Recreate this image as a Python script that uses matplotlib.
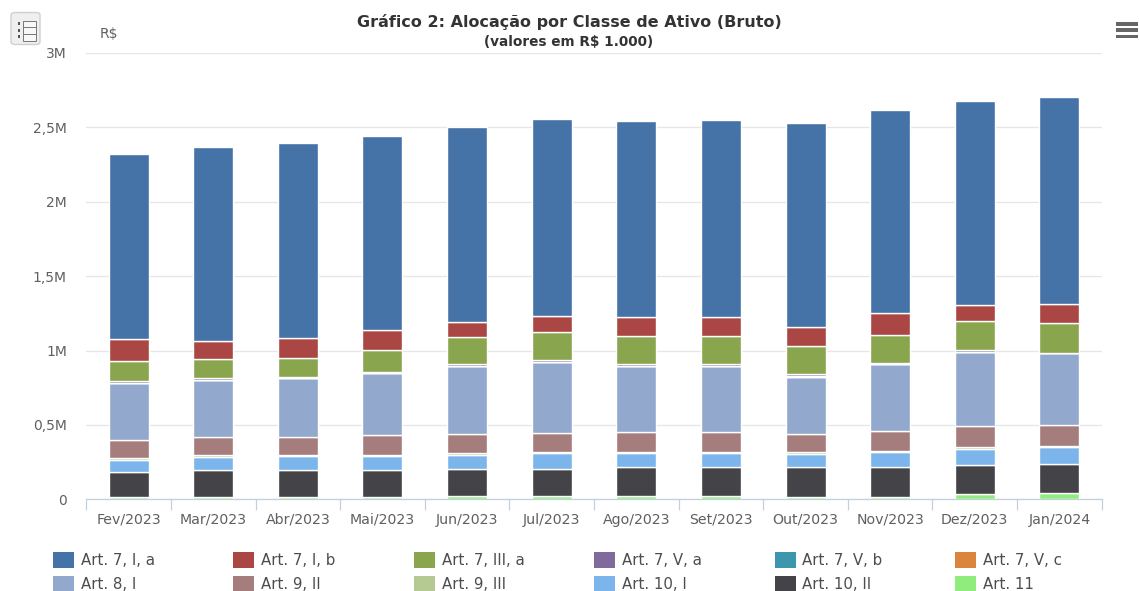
# -*- coding: utf-8 -*-
"""
Grafico 2: alocacao por classe de ativo, barras empilhadas mes a mes.
Valores lidos da imagem, em R$ 1.000.
"""
import matplotlib
matplotlib.use("Agg")
import matplotlib.pyplot as plt
from matplotlib.patches import FancyBboxPatch, Rectangle

W, H = 1139, 591

meses = ['Fev/2023', 'Mar/2023', 'Abr/2023', 'Mai/2023', 'Jun/2023', 'Jul/2023',
         'Ago/2023', 'Set/2023', 'Out/2023', 'Nov/2023', 'Dez/2023', 'Jan/2024']

art_11 = [17, 18, 18, 18, 24, 24, 24, 24, 18, 18, 34, 44]
art_10_ii = [165, 180, 181, 181, 183, 183, 193, 193, 198, 198, 199, 196]
art_10_i = [84, 89, 94, 94, 93, 103, 94, 94, 91, 101, 108, 111]
art_9_iii = [9, 9, 7, 7, 11, 9, 9, 9, 11, 9, 11, 9]
art_9_ii = [126, 126, 122, 130, 130, 130, 130, 130, 120, 132, 139, 141]
art_8_i = [384, 383, 390, 418, 456, 473, 448, 448, 383, 448, 502, 482]
art_7_v_c = [0, 0, 0, 0, 0, 0, 0, 0, 0, 0, 0, 0]
art_7_v_b = [0, 0, 0, 0, 0, 0, 0, 0, 9, 0, 0, 0]
art_7_v_a = [9, 7, 11, 9, 13, 11, 13, 13, 9, 11, 9, 2]
art_7_iii_a = [134, 132, 129, 146, 179, 190, 188, 188, 190, 190, 199, 202]
art_7_i_b = [148, 121, 130, 136, 101, 109, 126, 126, 128, 144, 103, 126]
art_7_i_a = [1247, 1305, 1309, 1304, 1314, 1324, 1314, 1324, 1373, 1366, 1373, 1391]

yticks = [0, 500, 1000, 1500, 2000, 2500, 3000]
ylabels = ['0', '0,5M', '1M', '1,5M', '2M', '2,5M', '3M']

# de baixo para cima
series = [
    ('Art. 11', art_11, '#90ED7D'),
    ('Art. 10, II', art_10_ii, '#434348'),
    ('Art. 10, I', art_10_i, '#7CB5EC'),
    ('Art. 9, III', art_9_iii, '#B5CA92'),
    ('Art. 9, II', art_9_ii, '#A47D7C'),
    ('Art. 8, I', art_8_i, '#92A8CD'),
    ('Art. 7, V, c', art_7_v_c, '#DB843D'),
    ('Art. 7, V, b', art_7_v_b, '#3D96AE'),
    ('Art. 7, V, a', art_7_v_a, '#80699B'),
    ('Art. 7, III, a', art_7_iii_a, '#89A54E'),
    ('Art. 7, I, b', art_7_i_b, '#AA4643'),
    ('Art. 7, I, a', art_7_i_a, '#4572A7'),
]
legenda = [['Art. 7, I, a', 'Art. 8, I'], ['Art. 7, I, b', 'Art. 9, II'],
           ['Art. 7, III, a', 'Art. 9, III'], ['Art. 7, V, a', 'Art. 10, I'],
           ['Art. 7, V, b', 'Art. 10, II'], ['Art. 7, V, c', 'Art. 11']]

cinza = '#606060'
fig = plt.figure(figsize=(W / 100, H / 100), dpi=100)
ax = fig.add_axes([86.3 / W, 1 - 499.4 / H, (1101.7 - 86.3) / W, (499.4 - 52.7) / H])

base = [0] * len(meses)
handles = {}
for nome, valores, cor in series:
    handles[nome] = ax.bar(range(len(meses)), valores, 0.473, bottom=base, color=cor,
                           edgecolor='white', linewidth=1.0, label=nome, zorder=3)
    base = [b + v for b, v in zip(base, valores)]

ax.set_xlim(-0.5, 11.5)
ax.set_ylim(0, 3000)
ax.set_yticks(yticks)
ax.set_yticklabels(ylabels)
ax.set_xticks(range(len(meses)))
ax.set_xticklabels(meses)
ax.set_xticks([i - 0.5 for i in range(len(meses) + 1)], minor=True)
ax.tick_params(axis='x', which='major', length=0, pad=9.5, labelsize=10.2, labelcolor=cinza)
ax.tick_params(axis='x', which='minor', length=7.7, width=0.9, color='#C0D0E0')
ax.tick_params(axis='y', length=0, pad=14, labelsize=10, labelcolor=cinza)
ax.grid(axis='y', color='#E6E6E6', linewidth=0.9)
ax.set_axisbelow(True)
for lado in ['top', 'left', 'right']:
    ax.spines[lado].set_visible(False)
ax.spines['bottom'].set_color('#C0D0E0')
ax.spines['bottom'].set_linewidth(0.9)

fig.text(569 / W, 1 - 22 / H, 'Gráfico 2: Alocação por Classe de Ativo (Bruto)', ha='center',
         va='center', fontsize=11.5, fontweight='bold', color='#333333')
fig.text(569 / W, 1 - 42 / H, '(valores em R$ 1.000)', ha='center', va='center',
         fontsize=9.8, fontweight='bold', color='#333333')
fig.text(100 / W, 1 - 34 / H, 'R$', ha='left', va='center', fontsize=10, color=cinza)

# uma legenda por coluna, para manter o espacamento igual
for i, coluna in enumerate(legenda):
    leg = fig.legend(handles=[handles[n] for n in coluna], labels=coluna, loc='upper left',
                     bbox_to_anchor=((53 + i * 180.4) / W, 1 - 552 / H), borderaxespad=0,
                     borderpad=0, frameon=False, fontsize=10.8, handlelength=1.4,
                     handleheight=1.3, handletextpad=0.45, labelspacing=0.5,
                     labelcolor='#4d4d4d')
    for t in leg.get_patches():
        t.set_edgecolor('none')


def caixa(x0, y0, x1, y1, **kw):
    fig.add_artist(Rectangle((x0 / W, 1 - y1 / H), (x1 - x0) / W, (y1 - y0) / H,
                             transform=fig.transFigure, **kw))


# botoes do canto
fig.add_artist(FancyBboxPatch((11 / W, 1 - 44.5 / H), 29 / W, 32 / H,
                              boxstyle='round,pad=0,rounding_size=0.004', transform=fig.transFigure,
                              facecolor='#EFEFEF', edgecolor='#D0D0D0', linewidth=1))
for y in [21, 27.5, 34]:
    caixa(17.5, y + 1.5, 20, y + 4, facecolor='#555555', edgecolor='none')
    caixa(23, y, 35.5, y + 6.5, facecolor='#F8F8F8', edgecolor='#777777', linewidth=0.7)
for y in [22, 28, 34.5]:
    caixa(1116, y, 1138, y + 3.5, facecolor='#666666', edgecolor='none')

fig.savefig('out.png', dpi=100)
